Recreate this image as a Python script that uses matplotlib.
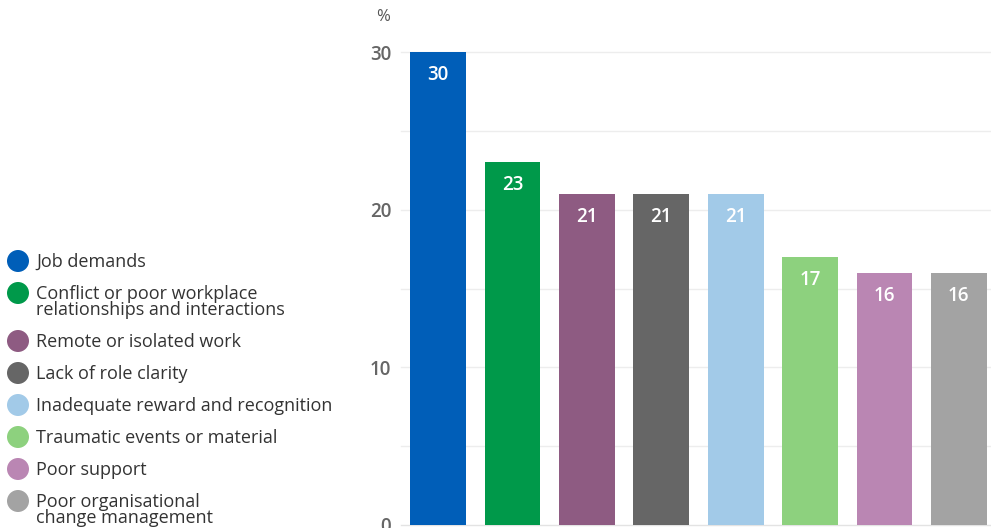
import matplotlib
matplotlib.use("Agg")
import matplotlib.pyplot as plt
from matplotlib.patches import Circle

categories = [
    "Job demands",
    "Conflict or poor workplace\nrelationships and interactions",
    "Remote or isolated work",
    "Lack of role clarity",
    "Inadequate reward and recognition",
    "Traumatic events or material",
    "Poor support",
    "Poor organisational\nchange management",
]
values = [30, 23, 21, 21, 21, 17, 16, 16]
colors = ["#005EB8", "#00994A", "#8E5B82", "#666666",
          "#A2CAE8", "#8DD17E", "#BA86B3", "#A3A3A3"]
yticks = [0, 10, 20, 30]

plt.rcParams['font.family'] = ['Open Sans', 'DejaVu Sans']

W, H = 991, 528
fig = plt.figure(figsize=(W / 100, H / 100), dpi=100)

# plot area in pixel coordinates
x0, x1 = 401, 996
y_top, y_bot = 52, 525
ax = fig.add_axes([x0 / W, 1 - y_bot / H, (x1 - x0) / W, (y_bot - y_top) / H])
ax.set_xlim(-0.5, len(values) - 0.5)
ax.set_ylim(0, 30)

for y in range(0, 31, 5):
    ax.axhline(y, color="#EDEDED" if y else "#E3E3E3", lw=1, zorder=0, clip_on=False)

xs = range(len(values))
ax.bar(xs, values, width=0.75, color=colors, zorder=2, clip_on=False)
for x, v in zip(xs, values):
    ax.text(x, v - 1.45, f"{v}", ha="center", va="center", color="white",
            fontsize=13.5, fontweight="semibold", zorder=3)

ax.set_yticks(yticks)
ax.set_yticklabels([str(t) for t in yticks], color="#666666", fontsize=13.5,
                   fontweight="semibold")
ax.tick_params(axis="y", length=0, pad=7)
ax.set_xticks([])
for s in ax.spines.values():
    s.set_visible(False)

fig.text(383 / W, 1 - 17 / H, "%", ha="center", va="center", color="#555555", fontsize=12)

# legend with circular swatches
legend_y = [262, 302, 342, 374, 406, 438, 470, 510]
for lab, col, yc in zip(categories, colors, legend_y):
    n_lines = lab.count("\n") + 1
    cy = yc - 1 if n_lines == 1 else yc - 9
    fig.patches.append(Circle((18, H - cy), 11, transform=None, facecolor=col,
                              edgecolor="none", figure=fig))
    fig.text(36 / W, 1 - yc / H, lab, ha="left", va="center", color="#333333",
             fontsize=13, linespacing=0.88)

fig.savefig("out.png", dpi=100)
